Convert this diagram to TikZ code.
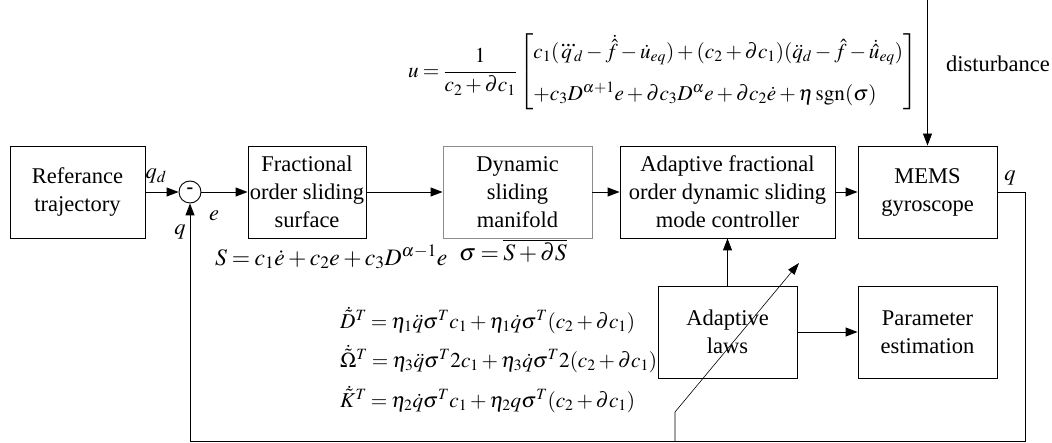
\documentclass[tikz,border=0pt]{standalone}
\usepackage{amsmath}
\usepackage{mathptmx}
\usepackage[no-math]{fontspec}
\setmainfont{Liberation Serif}
\usetikzlibrary{arrows.meta}
\newcommand{\tightmath}{\medmuskip=2.5mu plus 1mu minus 1mu\thickmuskip=3.5mu plus 1mu minus 1mu}
\begin{document}
\begin{tikzpicture}[x=1pt,y=-1pt,
  blk/.style={draw, line width=0.9pt, align=center, inner sep=0pt, font=\fontsize{22.5}{28}\selectfont},
  conn/.style={line width=0.9pt, -{Triangle[length=12pt,width=9pt]}},
  thinarrow/.style={line width=0.6pt, -{Triangle[length=12pt,width=8pt]}},
  lbl/.style={font=\fontsize{22.5}{28}\selectfont, inner sep=0pt},
  eqn/.style={font=\fontsize{21.2}{27}\selectfont\tightmath, inner sep=0pt},
  eqbig/.style={font=\fontsize{23.6}{29}\selectfont\tightmath, inner sep=0pt},
]
\useasboundingbox (0,0) rectangle (1052,443);
% blocks
\node[blk, minimum width=135pt, minimum height=92pt] (ref) at (77.5,192) {Referance\\trajectory};
\node[draw, circle, line width=0.9pt, minimum size=22pt, inner sep=0pt] (sum) at (190,192) {};
\node[font=\fontsize{20}{20}\selectfont\bfseries, inner sep=0pt] (minus) at (190,191) {-};
\node[blk, minimum width=118pt, minimum height=92pt] (frac) at (307,192) {Fractional\\order sliding\\surface};
\node[blk, draw=black!45, minimum width=149pt, minimum height=92pt] (dyn) at (517.5,192) {Dynamic\\sliding\\manifold};
\node[blk, minimum width=215pt, minimum height=92pt] (ctrl) at (727.5,192) {Adaptive fractional\\order dynamic sliding\\mode controller};
\node[blk, minimum width=139pt, minimum height=92pt] (mems) at (927.5,192) {MEMS\\gyroscope};
\node[blk, minimum width=139pt, minimum height=92pt] (laws) at (727.5,332) {Adaptive\\laws};
\node[blk, minimum width=139pt, minimum height=92pt] (par) at (927.5,332) {Parameter\\estimation};
% forward path
\draw[conn] (ref) -- (sum);
\draw[conn] (sum) -- (frac);
\draw[conn] (frac) -- (dyn);
\draw[conn] (dyn) -- (ctrl);
\draw[conn] (ctrl) -- (mems);
\draw[conn] (laws) -- (par);
\draw[conn] (laws) -- (ctrl);
% disturbance
\coordinate (dtop) at (927.5,0);
\draw[conn] (dtop) -- (mems.north);
\node[lbl, anchor=west] (dist) at (946,64) {disturbance};
% feedback
\coordinate (f1) at (1025,192);
\coordinate (f2) at (1025,441);
\coordinate (f3) at (190,441);
\draw[conn] (mems.east) -- (f1) -- (f2) -- (f3) -- (sum.south);
% adaptation arrow
\coordinate (a0) at (675,441);
\coordinate (a1) at (675,412);
\coordinate (a2) at (799,263);
\draw[thinarrow] (a0) -- (a1) -- (a2);
% labels
\node[lbl] (lqd) at (156,176) {$q_d$};
\node[lbl] (le) at (214,216) {$e$};
\node[lbl] (lq) at (180,232) {$q$};
\node[lbl] (lq2) at (1010,178) {$q$};
% equations
\node[eqn, anchor=west] (ueq) at (408,72) {$u=\dfrac{1}{c_2+\partial c_1}\left[\begin{array}{@{}l@{}} c_1(\!{\dddot{q}}\!{}_d-\dot{\hat{f}}-\dot{u}_{eq})+(c_2+\partial c_1)(\ddot{q}_d-\hat{f}-\dot{\hat{u}}_{eq})\\[15pt] +c_3D^{\alpha+1}e+\partial c_3D^{\alpha}e+\partial c_2\dot{e}+\eta\,\mathrm{sgn}(\sigma)\end{array}\right]$};
\node[eqbig, anchor=west] (seq) at (215,257) {$S=c_1\dot{e}+c_2e+c_3D^{\alpha-1}e$};
\node[eqbig, anchor=north west] (sigeq) at (459,238.5) {$\sigma=\overline{S+\partial S}$};
\node[eqn, anchor=west] (deq) at (340,320) {$\dot{\tilde{D}}^T=\eta_1\ddot{q}\sigma^T c_1+\eta_1\dot{q}\sigma^T(c_2+\partial c_1)$};
\node[eqn, anchor=west] (oeq) at (340,359) {$\dot{\tilde{\Omega}}^T=\eta_3\ddot{q}\sigma^T 2c_1+\eta_3\dot{q}\sigma^T 2(c_2+\partial c_1)$};
\node[eqn, anchor=west] (keq) at (340,399) {$\dot{\tilde{K}}^T=\eta_2\dot{q}\sigma^T c_1+\eta_2 q\sigma^T(c_2+\partial c_1)$};
\end{tikzpicture}
\end{document}
